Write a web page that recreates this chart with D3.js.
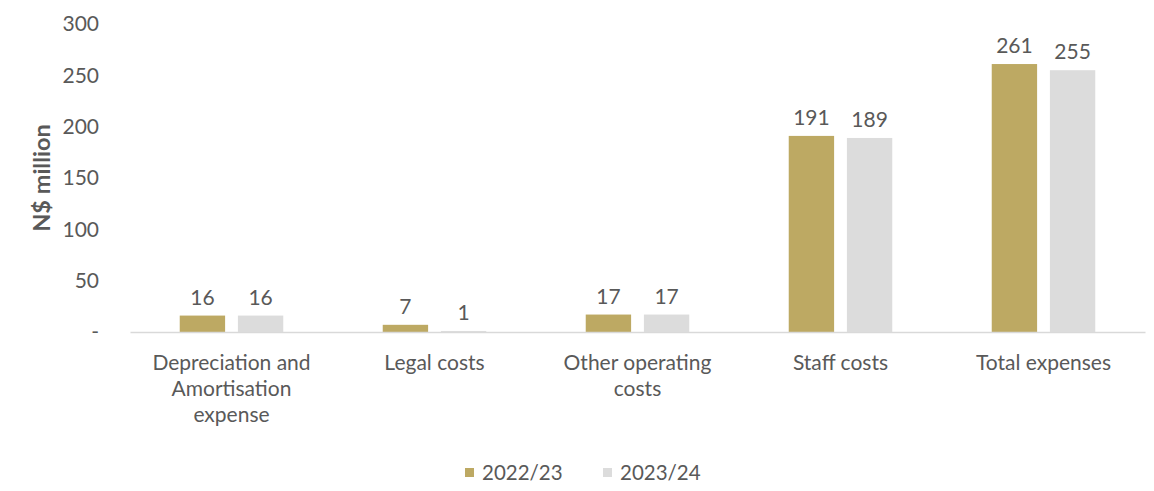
<!DOCTYPE html>
<html>
<head>
<meta charset="utf-8">
<script src="https://cdn.jsdelivr.net/npm/d3@7"></script>
<style>
  html, body { margin: 0; padding: 0; background: #ffffff; }
  svg { display: block; }
  text { font-family: Lato, "Open Sans", sans-serif; fill: #595959; }
</style>
</head>
<body>
<svg id="chart" width="1154" height="491"></svg>
<script>
// Expense categories (each line of a label is a separate entry)
const categories = [
  ["Depreciation and", "Amortisation", "expense"],
  ["Legal costs"],
  ["Other operating", "costs"],
  ["Staff costs"],
  ["Total expenses"]
];
const seriesNames = ["2022/23", "2023/24"];
const values2022 = [16, 7, 17, 191, 261];
const values2023 = [16, 1, 17, 189, 255];
const yTicks = [0, 50, 100, 150, 200, 250, 300];
const colors = ["#bda963", "#dcdcdc"];

const svg = d3.select("#chart");
const margin = { left: 130, right: 9, top: 24, bottom: 159 };
const W = 1154, H = 491;
const fs = 21;

const catKeys = categories.map(c => c.join(" "));
const rows = catKeys.map((k, i) => ({ key: k, lines: categories[i], vals: [values2022[i], values2023[i]] }));

const x0 = d3.scaleBand()
  .domain(catKeys)
  .range([margin.left, W - margin.right])
  .paddingInner(0.49)
  .paddingOuter(0.245);

const x1 = d3.scaleBand()
  .domain(seriesNames)
  .range([0, x0.bandwidth()])
  .paddingInner(0.22);

const y = d3.scaleLinear()
  .domain([0, 300])
  .range([H - margin.bottom, margin.top]);

// Y axis: tick labels only, zero shown as a dash
const yAxis = d3.axisLeft(y)
  .tickValues(yTicks)
  .tickSize(0)
  .tickPadding(0)
  .tickFormat(d => d === 0 ? "-" : d);
const gy = svg.append("g")
  .attr("transform", `translate(${margin.left - 31},0)`)
  .call(yAxis);
gy.select(".domain").remove();
gy.selectAll("text")
  .style("font-size", fs + "px")
  .style("font-family", "Lato, sans-serif")
  .attr("fill", "#595959");

// Axis title
svg.append("text")
  .attr("transform", `translate(50,${(y(0) + y(300)) / 2}) rotate(-90)`)
  .attr("text-anchor", "middle")
  .style("font-size", "23.5px")
  .style("font-weight", "bold")
  .text("N$ million");

// Bars
const groups = svg.append("g").selectAll("g")
  .data(rows)
  .join("g")
  .attr("transform", d => `translate(${x0(d.key)},0)`);

groups.selectAll("rect")
  .data(d => d.vals.map((v, i) => ({ s: seriesNames[i], v, i })))
  .join("rect")
  .attr("x", d => x1(d.s))
  .attr("width", x1.bandwidth())
  .attr("y", d => y(d.v))
  .attr("height", d => y(0) - y(d.v))
  .attr("fill", d => colors[d.i]);

// Value labels
groups.selectAll("text.val")
  .data(d => d.vals.map((v, i) => ({ s: seriesNames[i], v, i })))
  .join("text")
  .attr("class", "val")
  .attr("x", d => x1(d.s) + x1.bandwidth() / 2)
  .attr("y", d => y(d.v) - 11)
  .attr("text-anchor", "middle")
  .style("font-size", fs + "px")
  .text(d => d.v);

// X axis baseline
const xAxis = d3.axisBottom(x0).tickSize(0).tickFormat("");
const gx = svg.append("g")
  .attr("transform", `translate(0,${y(0)})`)
  .call(xAxis);
gx.select(".domain").attr("stroke", "#d9d9d9").attr("stroke-width", 1.5);

// Category labels (multi-line)
const catLabels = svg.append("g").selectAll("text")
  .data(rows)
  .join("text")
  .attr("x", d => x0(d.key) + x0.bandwidth() / 2)
  .attr("y", y(0) + 38)
  .attr("text-anchor", "middle")
  .style("font-size", fs + "px");
catLabels.selectAll("tspan")
  .data(d => d.lines)
  .join("tspan")
  .attr("x", function () { return d3.select(this.parentNode).attr("x"); })
  .attr("dy", (d, i) => i === 0 ? 0 : 26)
  .text(d => d);

// Legend
const legend = svg.append("g").attr("transform", "translate(465,473)");
const legendX = [0, 138];
seriesNames.forEach((name, i) => {
  const g = legend.append("g").attr("transform", `translate(${legendX[i]},0)`);
  g.append("rect").attr("x", 0).attr("y", -5).attr("width", 9).attr("height", 9).attr("fill", colors[i]);
  g.append("text").attr("x", 17).attr("y", 7).style("font-size", "20.5px").text(name);
});
</script>
</body>
</html>
